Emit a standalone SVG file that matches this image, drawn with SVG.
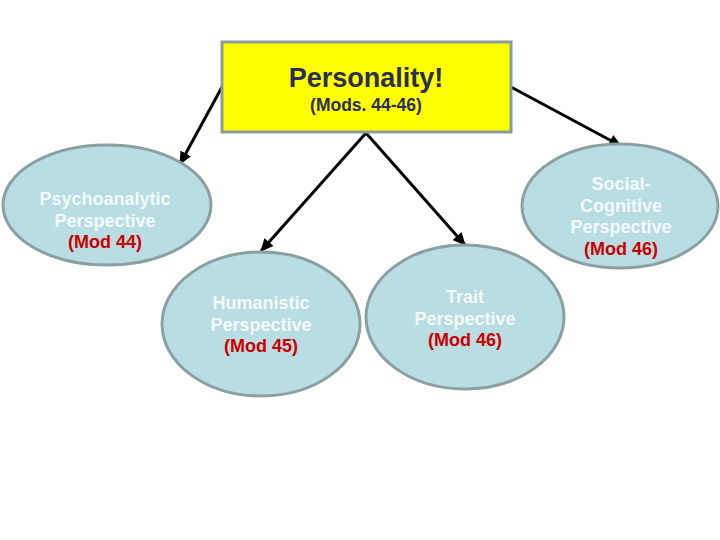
<svg xmlns="http://www.w3.org/2000/svg" width="720" height="540" viewBox="0 0 720 540">
<style>
.ell{fill:#b8dde2;stroke:#8aa0a3;stroke-width:3}
.t{font-family:"Liberation Sans",Arial,sans-serif;font-weight:bold;font-size:18px;text-anchor:middle;fill:#f4f9f9}
.r{fill:#cc0000}
.c{stroke:#000;stroke-width:3;fill:none;marker-end:url(#ah)}
</style>
<defs>
<marker id="ah" markerUnits="userSpaceOnUse" markerWidth="14" markerHeight="14" viewBox="0 0 14 14" refX="12" refY="7" orient="auto">
<path d="M0,1 L13,7 L0,13 Z" fill="#000"/>
</marker>
</defs>
<rect width="720" height="540" fill="#fff"/>
<g id="connectors">
<line class="c" x1="222" y1="87" x2="180" y2="164"/>
<line class="c" x1="511" y1="87" x2="621" y2="146"/>
<line class="c" x1="366" y1="133" x2="261" y2="251"/>
<line class="c" x1="366" y1="133" x2="465" y2="245"/>
</g>
<g id="personality">
<rect x="222" y="42" width="289" height="90" fill="#ffff00" stroke="#8c9c9c" stroke-width="3"/>
<text x="366" y="87" font-family="Liberation Sans,Arial,sans-serif" font-weight="bold" font-size="27" text-anchor="middle" fill="#2b2d5c">Personality!</text>
<text x="366" y="111" font-family="Liberation Sans,Arial,sans-serif" font-weight="bold" font-size="17.5" text-anchor="middle" fill="#2b2d5c">(Mods. 44-46)</text>
</g>
<g id="psychoanalytic">
<ellipse class="ell" cx="107" cy="205" rx="104" ry="60"/>
<text class="t" x="105" y="205">Psychoanalytic</text>
<text class="t" x="105" y="227">Perspective</text>
<text class="t r" x="105" y="248">(Mod 44)</text>
</g>
<g id="social-cognitive">
<ellipse class="ell" cx="620" cy="206" rx="98" ry="62"/>
<text class="t" x="621" y="190">Social-</text>
<text class="t" x="621" y="212">Cognitive</text>
<text class="t" x="621" y="233">Perspective</text>
<text class="t r" x="621" y="255">(Mod 46)</text>
</g>
<g id="humanistic">
<ellipse class="ell" cx="261" cy="324" rx="99" ry="72"/>
<text class="t" x="261" y="309">Humanistic</text>
<text class="t" x="261" y="331">Perspective</text>
<text class="t r" x="261" y="352">(Mod 45)</text>
</g>
<g id="trait">
<ellipse class="ell" cx="465" cy="317" rx="99" ry="72"/>
<text class="t" x="465" y="303">Trait</text>
<text class="t" x="465" y="325">Perspective</text>
<text class="t r" x="465" y="346">(Mod 46)</text>
</g>
</svg>
